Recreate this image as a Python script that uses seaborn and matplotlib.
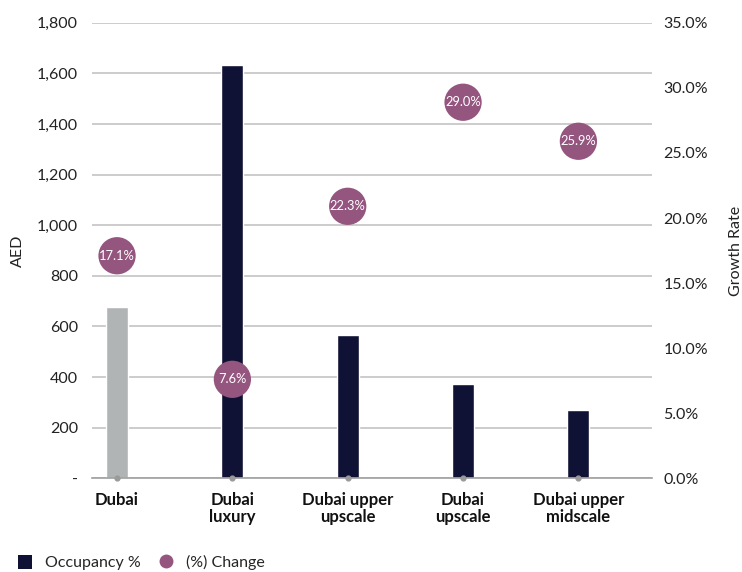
import matplotlib
matplotlib.use("Agg")
import matplotlib.pyplot as plt
import seaborn as sns
import numpy as np
import pandas as pd
from matplotlib.patches import Patch
from matplotlib.lines import Line2D
from matplotlib.ticker import FuncFormatter, MultipleLocator

categories = ["Dubai", "Dubai\nluxury", "Dubai upper\nupscale", "Dubai\nupscale", "Dubai upper\nmidscale"]
adr_values = [675, 1632, 568, 372, 270]
growth_pos = [17.1, 7.6, 20.9, 28.9, 25.9]
growth_labels = ["17.1%", "7.6%", "22.3%", "29.0%", "25.9%"]
bar_colors = ["#b1b4b5", "#0f1235", "#0f1235", "#0f1235", "#0f1235"]
circle_color = "#94557f"

sns.set_theme(style="white")
plt.rcParams["font.family"] = ["Lato", "DejaVu Sans"]

df = pd.DataFrame({"cat": categories, "adr": adr_values, "growth": growth_pos})

fig = plt.figure(figsize=(7.42, 5.72), dpi=100)
ax = fig.add_axes([0.124, 0.164, 0.755, 0.796])

sns.barplot(data=df, x="cat", y="adr", hue="cat", palette=bar_colors,
            width=0.19, legend=False, ax=ax, saturation=1, zorder=2)
ax.set_ylim(0, 1800)
ax.set_xlim(-0.217, 4.64)
ax.yaxis.set_major_locator(MultipleLocator(200))
ax.yaxis.set_major_formatter(FuncFormatter(lambda v, p: "-" if v == 0 else f"{v:,.0f}"))
ax.grid(axis="y", color="#c4c4c4", linewidth=1.2, zorder=0)
ax.set_axisbelow(True)
for s in ["left", "right", "top"]:
    ax.spines[s].set_visible(False)
ax.spines["bottom"].set_color("#a0a0a0")
ax.spines["bottom"].set_linewidth(1.2)
ax.tick_params(axis="y", length=0, pad=10, labelsize=11.5, labelcolor="#222222")
ax.tick_params(axis="x", length=0, pad=10, labelsize=12)
for t in ax.get_xticklabels():
    t.set_fontweight("bold")
    t.set_color("#111111")
    t.set_linespacing(1.05)
ax.set_xlabel("")
ax.set_ylabel("AED", fontsize=11.5, labelpad=9, color="#222222")

ax2 = ax.twinx()
x_idx = np.arange(len(categories))
sns.scatterplot(x=x_idx, y=df["growth"], ax=ax2, s=720, color=circle_color,
                edgecolor="none", zorder=5, legend=False)
ax2.scatter(x_idx, np.zeros(len(categories)), s=12, color="#9a9a9a", zorder=6, clip_on=False)
for xi, yv, lab in zip(x_idx, growth_pos, growth_labels):
    ax2.text(xi, yv, lab, ha="center", va="center", color="white", fontsize=9.3, zorder=7)
ax2.set_ylim(0, 35)
ax2.set_xlim(-0.217, 4.64)
ax2.yaxis.set_major_locator(MultipleLocator(5))
ax2.yaxis.set_major_formatter(FuncFormatter(lambda v, p: f"{v:.1f}%"))
for s in ["left", "right", "top", "bottom"]:
    ax2.spines[s].set_visible(False)
ax2.tick_params(axis="y", length=0, pad=8, labelsize=11.5, labelcolor="#222222")
ax2.set_ylabel("Growth Rate", fontsize=11.5, labelpad=15, color="#222222")
ax2.grid(False)

handles = [Patch(facecolor="#0f1235", edgecolor="none", label="Occupancy %"),
           Line2D([0], [0], marker="o", color="none", markerfacecolor=circle_color,
                  markeredgecolor="none", markersize=10, label="(%) Change")]
fig.legend(handles=handles, loc="center left", bbox_to_anchor=(0.005, 0.016), ncol=2,
           frameon=False, fontsize=11.5, handlelength=0.9, handleheight=0.9,
           columnspacing=1.1, handletextpad=0.8)

fig.savefig("out.png", dpi=100)
